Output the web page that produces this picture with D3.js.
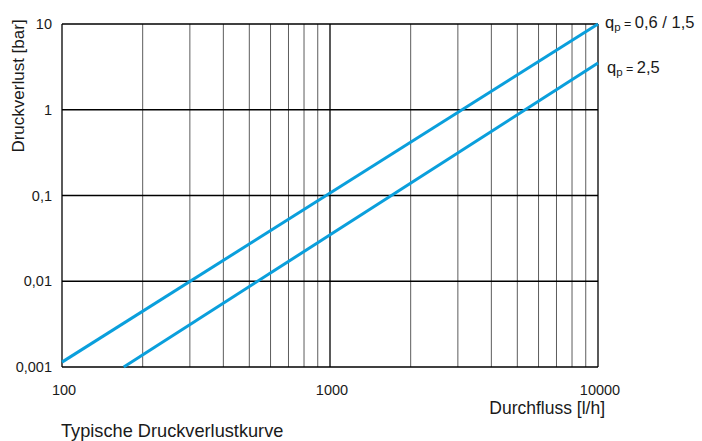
<!DOCTYPE html>
<html>
<head>
<meta charset="utf-8">
<script src="https://cdn.jsdelivr.net/npm/d3@7"></script>
<style>
  body { margin: 0; background: #fff; }
  svg { font-family: "Liberation Sans", Arial, sans-serif; fill: #1a1a1a; }
</style>
</head>
<body>
<svg width="702" height="441"></svg>
<script>
//Data
const flowTicks = [100, 1000, 10000];
const flowTickLabels = ["100", "1000", "10000"];
const pressureTicks = [0.001, 0.01, 0.1, 1, 10];
const pressureTickLabels = ["0,001", "0,01", "0,1", "1", "10"];

const curveA = [[100, 0.00114], [10000, 10]];   // qp = 0,6 / 1,5
const curveB = [[170, 0.001], [10000, 3.5]];    // qp = 2,5
const seriesNames = ["0,6 / 1,5", "2,5"];

const svg = d3.select("svg");
const plotLeft = 62, plotRight = 598, plotTop = 24, plotBottom = 367;

const x = d3.scaleLog().domain([100, 10000]).range([plotLeft, plotRight]);
const y = d3.scaleLog().domain([0.001, 10]).range([plotBottom, plotTop]);

//Minor vertical grid
const minor = [];
[100, 1000].forEach(dec => { for (let i = 2; i <= 9; i++) minor.push(dec * i); });
svg.append("g").selectAll("line")
    .data(minor)
    .enter()
    .append("line")
    .attr("x1", d => x(d)).attr("x2", d => x(d))
    .attr("y1", plotTop).attr("y2", plotBottom)
    .attr("stroke", "#333")
    .attr("stroke-width", 0.8);

//Major grid
svg.append("g").selectAll("line")
    .data(pressureTicks)
    .enter()
    .append("line")
    .attr("x1", plotLeft).attr("x2", plotRight)
    .attr("y1", d => y(d)).attr("y2", d => y(d))
    .attr("stroke", "#000")
    .attr("stroke-width", 1.3);

svg.append("g").selectAll("line")
    .data(flowTicks)
    .enter()
    .append("line")
    .attr("x1", d => x(d)).attr("x2", d => x(d))
    .attr("y1", plotTop).attr("y2", plotBottom)
    .attr("stroke", "#000")
    .attr("stroke-width", 1.3);

//Tick labels
svg.append("g").selectAll("text")
    .data(pressureTicks)
    .enter()
    .append("text")
    .attr("x", plotLeft - 10)
    .attr("y", d => y(d) + 5)
    .attr("text-anchor", "end")
    .attr("font-size", "14.5px")
    .text((d, i) => pressureTickLabels[i]);

svg.append("g").selectAll("text")
    .data(flowTicks)
    .enter()
    .append("text")
    .attr("x", d => x(d) + 2)
    .attr("y", plotBottom + 28)
    .attr("text-anchor", "middle")
    .attr("font-size", "14.5px")
    .text((d, i) => flowTickLabels[i]);

//Curves
const line = d3.line().x(d => x(d[0])).y(d => y(d[1]));
[curveA, curveB].forEach(c => {
    svg.append("path")
        .attr("d", line(c))
        .attr("fill", "none")
        .attr("stroke", "#0a9fdc")
        .attr("stroke-width", 3);
});

//Series labels
[curveA, curveB].forEach((c, i) => {
    const last = c[c.length - 1];
    const t = svg.append("text")
        .attr("x", x(last[0]) + (i === 0 ? 7 : 9))
        .attr("y", y(last[1]) + (i === 0 ? 4 : 10))
        .attr("font-size", "16.5px");
    t.append("tspan").text("q");
    t.append("tspan").attr("font-size", "11.5px").attr("dy", 3).text("p");
    t.append("tspan").attr("font-size", "12.5px").attr("dy", -3).text(" = ");
    t.append("tspan").text(seriesNames[i]);
});

//Axis titles
svg.append("text")
    .attr("transform", "rotate(-90)")
    .attr("x", -86)
    .attr("y", 24)
    .attr("text-anchor", "middle")
    .attr("font-size", "17px")
    .text("Druckverlust [bar]");

svg.append("text")
    .attr("x", 605)
    .attr("y", 414)
    .attr("text-anchor", "end")
    .attr("font-size", "17.5px")
    .text("Durchfluss [l/h]");

svg.append("text")
    .attr("x", 61)
    .attr("y", 437)
    .attr("font-size", "18.2px")
    .text("Typische Druckverlustkurve");
</script>
</body>
</html>
